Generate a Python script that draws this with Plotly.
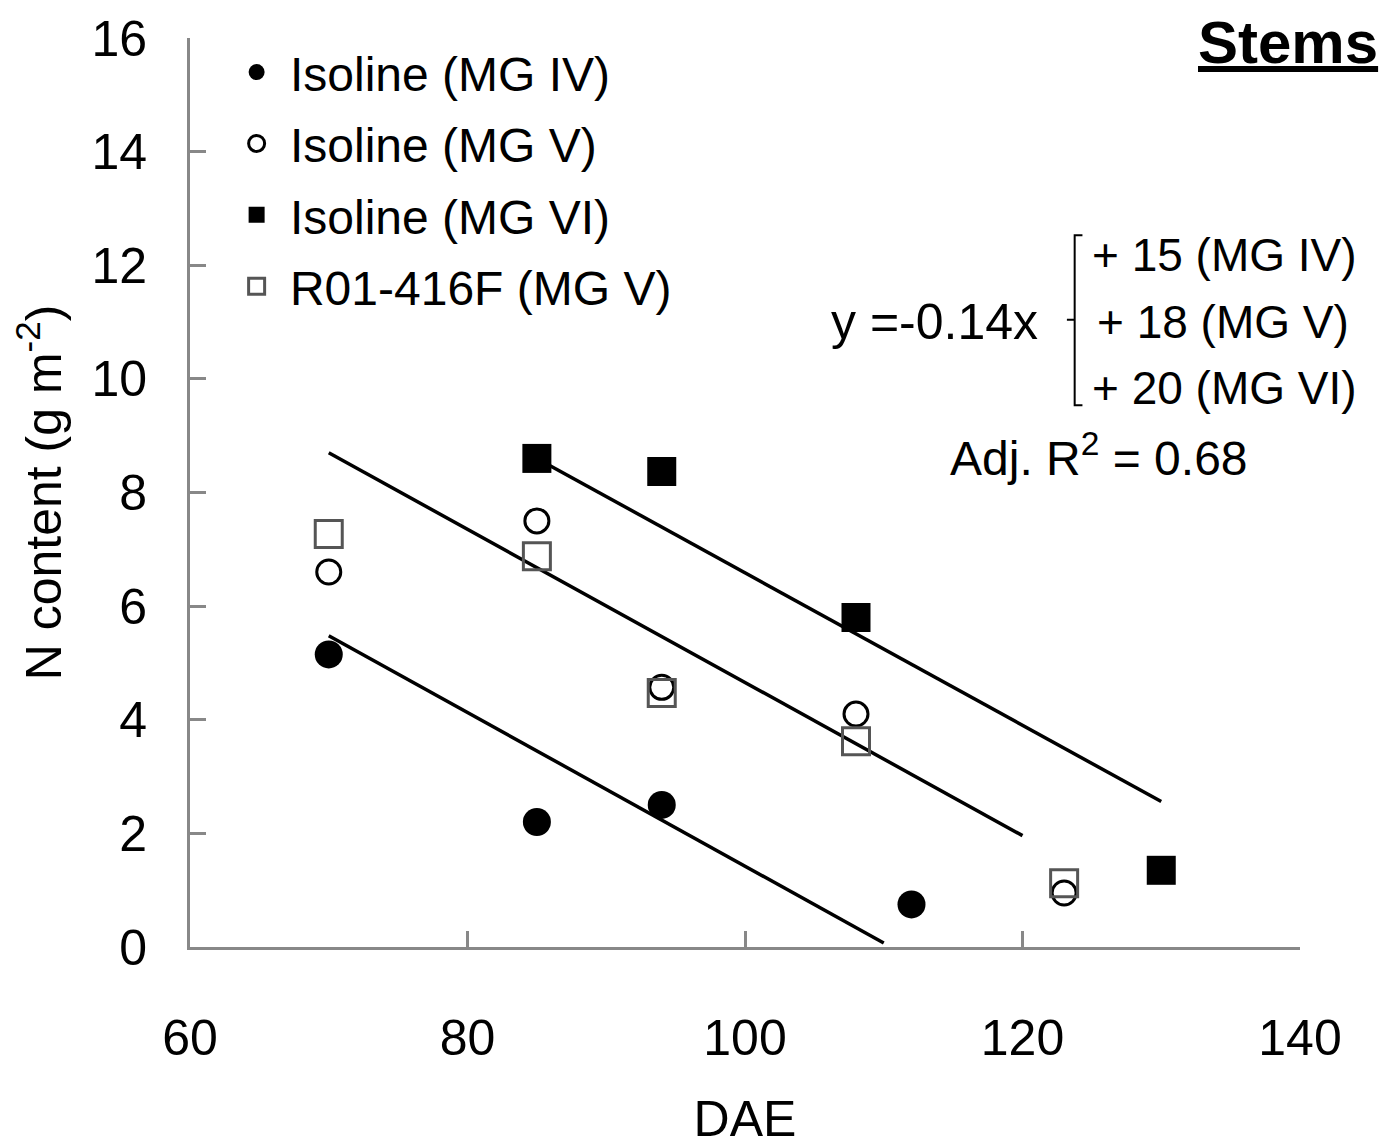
import plotly.graph_objects as go

FONT = "Liberation Sans, Arial"

# data
dae_iv = [70, 85, 94, 112]
n_iv = [5.15, 2.2, 2.5, 0.75]

dae_v = [70, 85, 94, 108, 123]
n_v = [6.6, 7.5, 4.57, 4.1, 0.95]

dae_vi = [85, 94, 108, 130]
n_vi = [8.6, 8.37, 5.8, 1.35]

dae_r01 = [70, 85, 94, 108, 123]
n_r01 = [7.27, 6.88, 4.47, 3.62, 1.12]

# fitted lines (end points)
fit_iv_x = [70, 110]
fit_iv_y = [5.48, 0.07]
fit_v_x = [70, 120]
fit_v_y = [8.7, 1.96]
fit_vi_x = [85, 130]
fit_vi_y = [8.6, 2.56]

x_ticks = [60, 80, 100, 120, 140]
y_ticks = [0, 2, 4, 6, 8, 10, 12, 14, 16]

fig = go.Figure()

for fx, fy in [(fit_iv_x, fit_iv_y), (fit_v_x, fit_v_y), (fit_vi_x, fit_vi_y)]:
    fig.add_trace(go.Scatter(x=fx, y=fy, mode="lines", line=dict(color="black", width=3.5),
                             showlegend=False, hoverinfo="skip"))

fig.add_trace(go.Scatter(x=dae_iv, y=n_iv, mode="markers", name=" Isoline (MG IV)", legendgroup="a",
                         marker=dict(symbol="circle", size=28, color="black")))
fig.add_trace(go.Scatter(x=dae_v, y=n_v, mode="markers", name=" Isoline (MG V)", legendgroup="b",
                         marker=dict(symbol="circle-open", size=24, color="black", line=dict(width=3))))
fig.add_trace(go.Scatter(x=dae_vi, y=n_vi, mode="markers", name=" Isoline (MG VI)", legendgroup="c",
                         marker=dict(symbol="square", size=29, color="black")))
fig.add_trace(go.Scatter(x=dae_r01, y=n_r01, mode="markers", name=" R01-416F (MG V)", legendgroup="d",
                         marker=dict(symbol="square-open", size=27, color="#555555", line=dict(width=3))))

axis_common = dict(showgrid=False, zeroline=False, showline=True, linecolor="#888888", linewidth=3,
                   ticks="inside", tickcolor="#888888", tickwidth=3, ticklen=16, automargin=False,
                   tickfont=dict(family=FONT, size=50, color="black"))

fig.update_xaxes(range=[60, 140], tickvals=x_ticks, ticklabelstandoff=45,
                 title=dict(text="DAE", font=dict(family=FONT, size=50, color="black"), standoff=36),
                 **axis_common)
fig.update_yaxes(range=[0, 16], tickvals=y_ticks, ticklabelstandoff=30,
                 title=dict(text="N content (g m<sup>-2</sup>)", font=dict(family=FONT, size=50, color="black"),
                            standoff=18),
                 **axis_common)

annotations = [
    dict(text="y =-0.14x", x=0.766, y=0.688, xanchor="right", yanchor="middle", size=50),
    dict(text="+ 15 (MG IV)", x=0.811, y=0.761, xanchor="left", yanchor="middle", size=46),
    dict(text="+ 18 (MG V)", x=0.815, y=0.688, xanchor="left", yanchor="middle", size=46),
    dict(text="+ 20 (MG VI)", x=0.811, y=0.615, xanchor="left", yanchor="middle", size=46),
    dict(text="Adj. R<sup>2</sup> = 0.68", x=0.683, y=0.541, xanchor="left", yanchor="middle", size=48),
]
for a in annotations:
    size = a.pop("size")
    fig.add_annotation(xref="paper", yref="paper", showarrow=False,
                       font=dict(family=FONT, size=size, color="black"), **a)

fig.add_annotation(xref="paper", yref="paper", x=1.072, y=0.995, xanchor="right", yanchor="middle",
                   showarrow=False, text="<b><u>Stems</u></b>",
                   font=dict(family="Liberation Sans, Arial", size=60, color="black"))

# bracket
fig.add_shape(type="path", xref="paper", yref="paper",
              path="M 0.804 0.783 L 0.797 0.783 L 0.797 0.596 L 0.804 0.596 M 0.797 0.690 L 0.790 0.690",
              line=dict(color="black", width=2))

fig.update_layout(
    width=1389, height=1147,
    margin=dict(l=182, r=97, t=30, b=208),
    plot_bgcolor="white", paper_bgcolor="white",
    font=dict(family=FONT, color="black"),
    legend=dict(x=0.042, y=1.004, xanchor="left", yanchor="top", bgcolor="rgba(0,0,0,0)",
                traceorder="grouped", tracegroupgap=6,
                font=dict(family=FONT, size=48, color="black"), itemwidth=30),
)

fig.write_html("out.html")
